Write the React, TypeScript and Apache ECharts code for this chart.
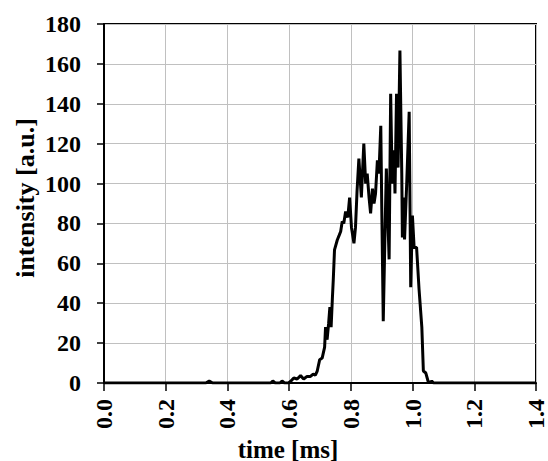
import React, { useEffect, useRef } from "react";
import * as echarts from "echarts";

const timeMs = [
  0, 0.33, 0.341, 0.352, 0.54, 0.547, 0.555, 0.57, 0.577, 0.585, 0.598, 0.606,
  0.615, 0.626, 0.637, 0.647, 0.658, 0.669, 0.678, 0.685, 0.691, 0.699, 0.707,
  0.715, 0.718, 0.723, 0.728, 0.732, 0.736, 0.74, 0.743, 0.747, 0.756, 0.762,
  0.767, 0.772, 0.777, 0.783, 0.79, 0.796, 0.802, 0.81, 0.815, 0.82, 0.826,
  0.834, 0.842, 0.848, 0.853, 0.859, 0.864, 0.87, 0.875, 0.88, 0.886, 0.891,
  0.897, 0.9, 0.905, 0.91, 0.915, 0.924, 0.929, 0.934, 0.94, 0.943, 0.948,
  0.953, 0.959, 0.965, 0.967, 0.972, 0.974, 0.981, 0.989, 0.994, 0.9995, 1.005,
  1.013, 1.021, 1.03, 1.035, 1.043, 1.05, 1.055, 1.062, 1.068, 1.4,
];

const intensity = [
  0, 0, 1, 0, 0, 1, 0, 0, 1, 0, 0, 1,
  2.5, 2, 3.7, 2, 3.3, 3.3, 4.5, 4, 6, 11.7, 12.5,
  18, 28, 21.7, 30, 38, 28, 42, 51.7, 66.7, 71.7, 74,
  76, 81, 80, 86, 83, 93, 78, 70, 78, 96, 112.5,
  93, 120, 100, 105, 93, 85, 97.5, 90, 95, 111.7, 105,
  129, 90, 31, 70, 107.5, 62, 145, 100, 116.7, 95, 145,
  108, 166.7, 105, 73, 93, 72, 100, 136, 48, 84, 68,
  68, 47, 28, 6, 5, 1, 0, 1, 0, 0,
];

const xTitle = "time [ms]";
const yTitle = "intensity [a.u.]";

export default function App() {
  const ref = useRef<HTMLDivElement>(null);

  useEffect(() => {
    if (!ref.current) return;
    const chart = echarts.init(ref.current, undefined, { renderer: "svg" });
    const font = "'Liberation Serif', 'Times New Roman', serif";
    const data = timeMs.map((t, i) => [t, intensity[i]]);
    chart.setOption({
      animation: false,
      backgroundColor: "#ffffff",
      grid: {
        left: 104,
        right: 12,
        top: 24,
        bottom: 78,
        show: true,
        borderColor: "#000000",
        borderWidth: 2,
        containLabel: false,
      },
      xAxis: {
        type: "value",
        min: 0,
        max: 1.4,
        interval: 0.2,
        axisLine: { show: true, onZero: false, lineStyle: { color: "#000", width: 2 } },
        axisTick: { show: true, inside: false, length: 8, lineStyle: { color: "#000", width: 1.5 } },
        axisLabel: {
          rotate: 90,
          margin: 16,
          color: "#000",
          fontFamily: font,
          fontWeight: "bold",
          fontSize: 24,
          formatter: (v: number) => v.toFixed(1),
        },
        splitLine: { show: true, lineStyle: { color: "#c0c0c0", width: 1 } },
      },
      yAxis: {
        type: "value",
        min: 0,
        max: 180,
        interval: 20,
        axisLine: { show: true, lineStyle: { color: "#000", width: 2 } },
        axisTick: { show: true, inside: false, length: 7, lineStyle: { color: "#000", width: 1.5 } },
        axisLabel: {
          margin: 23,
          color: "#000",
          fontFamily: font,
          fontWeight: "bold",
          fontSize: 24,
        },
        splitLine: { show: true, lineStyle: { color: "#c0c0c0", width: 1 } },
      },
      graphic: [
        {
          type: "text",
          x: 288,
          y: 449,
          style: {
            text: xTitle,
            fontFamily: font,
            fontWeight: "bold",
            fontSize: 25,
            fill: "#000",
            textAlign: "center",
            textVerticalAlign: "middle",
          },
        },
        {
          type: "text",
          x: 25,
          y: 198,
          rotation: Math.PI / 2,
          style: {
            text: yTitle,
            fontFamily: font,
            fontWeight: "bold",
            fontSize: 26,
            fill: "#000",
            textAlign: "center",
            textVerticalAlign: "middle",
          },
        },
      ],
      series: [
        {
          type: "line",
          data,
          showSymbol: false,
          symbol: "none",
          lineStyle: { color: "#000", width: 3 },
          itemStyle: { color: "#000" },
          z: 3,
        },
      ],
    });
    return () => chart.dispose();
  }, []);

  return (
    <div
      ref={ref}
      style={{ position: "fixed", left: 0, top: 0, width: 548, height: 461 }}
    />
  );
}
